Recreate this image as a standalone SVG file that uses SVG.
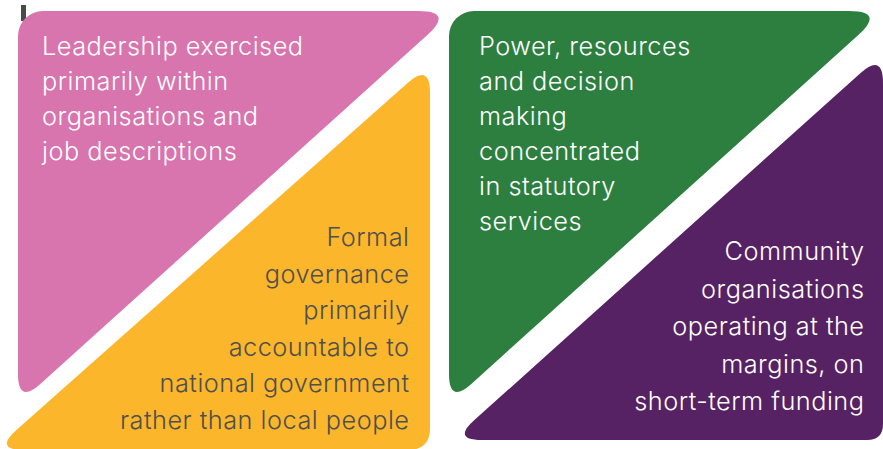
<svg xmlns="http://www.w3.org/2000/svg" width="883" height="449" viewBox="0 0 883 449">
<style>
text{font-family:Inter,"Noto Sans","Liberation Sans",sans-serif;font-size:25.3px;letter-spacing:0.5px;font-weight:300}
.w{fill:#ffffff}
.d{fill:#4f4f4f}
.r{text-anchor:end}
</style>
<rect x="0" y="0" width="883" height="449" fill="#ffffff"/>
<rect x="21" y="5" width="5" height="16" fill="#4a4a4a"/>
<g id="pink">
<path d="M18,36 A25,25 0 0 1 43,11 L418,11 Q454,11 427.3,35.1 L40.3,383.9 Q18,404 18,374 Z" fill="#d874ae"/>
<text class="w" x="42" y="55">Leadership exercised</text>
<text class="w" x="42" y="90">primarily within</text>
<text class="w" x="42" y="125">organisations and</text>
<text class="w" x="42" y="160">job descriptions</text>
</g>
<g id="yellow">
<path d="M430,93 L430,428 Q430,450 408,450 L24,450 Q-6,450 16.4,430.1 L407.6,82.9 Q430,63 430,93 Z" fill="#fbb62b"/>
<text class="d r" x="409.5" y="246">Formal</text>
<text class="d r" x="409.5" y="282.5">governance</text>
<text class="d r" x="409.5" y="319">primarily</text>
<text class="d r" x="409.5" y="355.5">accountable to</text>
<text class="d r" x="409.5" y="392">national government</text>
<text class="d r" x="409.5" y="428.5">rather than local people</text>
</g>
<g id="green">
<path d="M449,36 A25,25 0 0 1 474,11 L849,11 Q885,11 858.3,35.1 L471.3,383.9 Q449,404 449,374 Z" fill="#2c7f3f"/>
<text class="w" x="479" y="55">Power, resources</text>
<text class="w" x="479" y="90">and decision</text>
<text class="w" x="479" y="125">making</text>
<text class="w" x="479" y="160">concentrated</text>
<text class="w" x="479" y="195">in statutory</text>
<text class="w" x="479" y="230">services</text>
</g>
<g id="purple">
<path d="M883,83 L883,424 Q883,440 867,440 L482,440 Q452,440 474.4,420.1 L860.6,72.9 Q883,53 883,83 Z" fill="#572264"/>
<text class="w r" x="864.5" y="260">Community</text>
<text class="w r" x="864.5" y="297.5">organisations</text>
<text class="w r" x="864.5" y="335">operating at the</text>
<text class="w r" x="864.5" y="372.5">margins, on</text>
<text class="w r" x="864.5" y="410">short-term funding</text>
</g>
</svg>
